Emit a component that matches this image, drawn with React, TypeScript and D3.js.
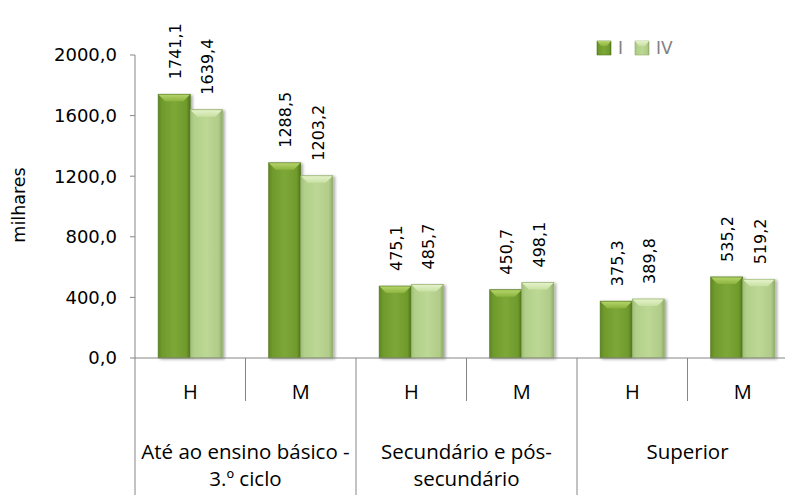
import React from "react";
import * as d3 from "d3";

const groups = ["Até ao ensino básico -|3.º ciclo", "Secundário e pós-|secundário", "Superior"];
const sexes = ["H", "M"];
const categories = ["H1", "M1", "H2", "M2", "H3", "M3"];
const seriesNames = ["I", "IV"];
const valuesI = [1741.1, 1288.5, 475.1, 450.7, 375.3, 535.2];
const valuesIV = [1639.4, 1203.2, 485.7, 498.1, 389.8, 519.2];
const yTicks = [0, 400, 800, 1200, 1600, 2000];

const W = 785, H = 495;
const x0 = 135, baseY = 358, topY = 55;
const catW = 110.5;

const fmt = (v: number) => v.toFixed(1).replace(".", ",");

export default function App() {
  const x = d3.scaleBand<string>().domain(categories).range([x0, x0 + catW * 6]).paddingInner(0).paddingOuter(0);
  const xs = d3.scaleBand<string>().domain(seriesNames).range([0, x.bandwidth()]).paddingInner(0).paddingOuter(0.72);
  const y = d3.scaleLinear().domain([0, 2000]).range([baseY, topY]);
  const series = [valuesI, valuesIV];
  const bw = xs.bandwidth();
  const font = "'DejaVu Sans', sans-serif";
  const cfont = "'Open Sans', sans-serif";
  return (
    <svg width={W} height={H} style={{ position: "absolute", left: 0, top: 0, background: "#fff" }}>
      <defs>
        <linearGradient id="gI" x1="0" x2="1" y1="0" y2="0">
          <stop offset="0" stopColor="#5f8622" />
          <stop offset="0.12" stopColor="#6f9a2c" />
          <stop offset="0.5" stopColor="#7da838" />
          <stop offset="0.88" stopColor="#6f9a2c" />
          <stop offset="1" stopColor="#4f7219" />
        </linearGradient>
        <linearGradient id="gIV" x1="0" x2="1" y1="0" y2="0">
          <stop offset="0" stopColor="#9fbf78" />
          <stop offset="0.12" stopColor="#b2d08a" />
          <stop offset="0.5" stopColor="#bcd894" />
          <stop offset="0.88" stopColor="#b0cc88" />
          <stop offset="1" stopColor="#8eab68" />
        </linearGradient>
        <linearGradient id="tI" x1="0" x2="0" y1="0" y2="1">
          <stop offset="0" stopColor="#b5d36a" />
          <stop offset="1" stopColor="#8cb43e" />
        </linearGradient>
        <linearGradient id="tIV" x1="0" x2="0" y1="0" y2="1">
          <stop offset="0" stopColor="#e4f2c8" />
          <stop offset="1" stopColor="#c8e0a4" />
        </linearGradient>
        <filter id="sh" x="-20%" y="-5%" width="150%" height="115%">
          <feGaussianBlur in="SourceAlpha" stdDeviation="1.5" />
          <feOffset dx="1.5" dy="1" result="b" />
          <feComponentTransfer><feFuncA type="linear" slope="0.35" /></feComponentTransfer>
          <feMerge><feMergeNode /><feMergeNode in="SourceGraphic" /></feMerge>
        </filter>
      </defs>

      {/* y axis */}
      <line x1={x0} x2={x0} y1={topY} y2={baseY} stroke="#868686" />
      {yTicks.map((t) => (
        <g key={t}>
          <line x1={x0 - 5} x2={x0} y1={y(t)} y2={y(t)} stroke="#868686" />
          <text x={x0 - 18} y={y(t)} dy="0.36em" textAnchor="end" fontFamily={font} fontSize={18} fill="#000">{fmt(t)}</text>
        </g>
      ))}
      <text transform={`translate(19,205) rotate(-90)`} dy="0.36em" textAnchor="middle" fontFamily={font} fontSize={17.5}>milhares</text>

      {/* bars */}
      {series.map((vals, si) =>
        categories.map((c, ci) => {
          const bx = (x(c) as number) + (xs(seriesNames[si]) as number);
          const by = y(vals[ci]);
          const bh = baseY - by;
          const bev = 7;
          return (
            <g key={`${si}-${ci}`}>
              <g filter="url(#sh)">
                <rect x={bx} y={by} width={bw} height={bh} fill={`url(#${si === 0 ? "gI" : "gIV"})`} stroke={si === 0 ? "#55781c" : "#93b06c"} strokeWidth={0.6} />
              </g>
              <polygon points={`${bx + 0.5},${by + 0.5} ${bx + bw - 0.5},${by + 0.5} ${bx + bw - bev},${by + bev} ${bx + bev},${by + bev}`} fill={`url(#${si === 0 ? "tI" : "tIV"})`} />
              <text transform={`translate(${bx + bw / 2 + 1},${by - 15}) rotate(-90)`} dy="0.36em" fontFamily={font} fontSize={16} fill="#000">{fmt(vals[ci])}</text>
            </g>
          );
        })
      )}

      {/* category axis */}
      <line x1={x0} x2={W} y1={baseY} y2={baseY} stroke="#868686" />
      {categories.map((c, i) => (
        <g key={c}>
          <line x1={x(c) as number} x2={x(c) as number} y1={baseY} y2={i % 2 === 0 ? H : baseY + 43} stroke="#868686" />
          <text x={(x(c) as number) + catW / 2} y={399} textAnchor="middle" fontFamily={cfont} fontSize={20}>{sexes[i % 2]}</text>
        </g>
      ))}
      {groups.map((g, gi) => {
        const cx = x0 + catW * (gi * 2 + 1);
        return g.split("|").map((ln, li) => (
          <text key={`${gi}-${li}`} x={cx} y={459 + li * 27} textAnchor="middle" fontFamily={cfont} fontSize={20.5}>{ln}</text>
        ));
      })}

      {/* legend */}
      {seriesNames.map((s, i) => {
        const lx = 597 + i * 38;
        return (
          <g key={s}>
            <rect x={lx} y={41} width={14} height={14} fill={`url(#${i === 0 ? "gI" : "gIV"})`} stroke={i === 0 ? "#55781c" : "#93b06c"} strokeWidth={0.6} />
            <polygon points={`${lx},${41} ${lx + 14},${41} ${lx + 10},${46} ${lx + 4},${46}`} fill={`url(#${i === 0 ? "tI" : "tIV"})`} />
            <text x={lx + 21} y={48} dy="0.36em" fontFamily={font} fontSize={17} fill="#7f7f7f">{s}</text>
          </g>
        );
      })}
    </svg>
  );
}
